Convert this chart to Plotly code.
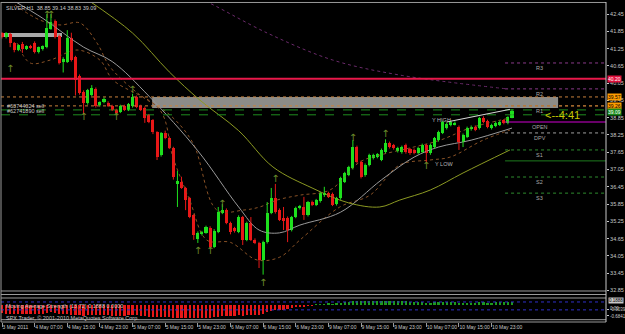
import plotly.graph_objects as go

# ---------------- data ----------------
opens = [41.78, 41.64, 41.76, 41.44, 41.20, 41.40, 41.24, 41.33, 41.44, 41.12,
         41.22, 41.30, 41.93, 42.20, 41.70, 40.78, 40.80, 41.62, 40.96, 40.30,
         39.74, 39.36, 39.64, 39.85, 39.29, 39.39, 39.36, 39.26, 39.12, 39.05,
         39.26, 39.12, 39.26, 39.57, 39.26, 39.19, 38.94, 38.77, 38.35, 37.55,
         38.32, 38.14, 37.80, 36.55, 36.62, 36.41, 36.06, 35.47, 34.65, 34.80,
         34.85, 35.02, 34.36, 34.88, 35.55, 35.64, 35.19, 35.02, 34.88, 35.40,
         34.61, 35.19, 34.61, 34.50, 33.91, 34.53, 35.54, 36.06, 35.64, 35.37,
         35.37, 34.95, 35.40, 35.71, 35.75, 35.47, 35.92, 35.82, 35.95, 36.15,
         36.23, 36.20, 35.85, 36.06, 36.62, 36.86, 37.10, 37.83, 37.31, 36.86,
         37.21, 37.45, 37.48, 37.38, 37.66, 37.97, 37.90, 37.70, 37.66, 37.90,
         37.76, 37.73, 37.62, 37.66, 37.90, 37.62, 37.83, 38.07, 38.32, 38.49,
         38.60, 38.63, 38.53, 38.01, 38.18, 38.45, 38.53, 38.49, 38.84, 38.74,
         38.49, 38.56, 38.60, 38.77, 38.67, 38.85]
highs = [41.82, 41.82, 41.80, 41.48, 41.40, 41.48, 41.36, 41.38, 41.50, 41.32,
         41.36, 42.45, 42.45, 42.26, 41.74, 40.95, 41.89, 41.80, 41.00, 40.35,
         39.80, 39.85, 39.98, 39.90, 39.42, 39.55, 39.42, 39.30, 39.16, 39.30,
         39.30, 39.36, 39.68, 39.62, 39.30, 39.24, 38.98, 38.80, 38.38, 38.35,
         38.40, 38.20, 37.84, 37.00, 36.80, 36.45, 36.10, 35.50, 34.90, 34.92,
         35.10, 35.08, 34.98, 35.75, 35.85, 35.70, 35.24, 35.06, 35.46, 35.44,
         35.24, 35.40, 34.66, 34.54, 34.58, 35.92, 36.41, 36.55, 35.70, 35.75,
         35.42, 35.44, 35.76, 35.82, 36.10, 35.96, 35.97, 36.03, 36.27, 36.45,
         36.28, 36.25, 36.10, 36.80, 36.97, 37.18, 38.07, 37.88, 37.36, 37.26,
         37.60, 37.60, 37.62, 37.78, 38.10, 38.02, 37.94, 37.84, 37.88, 37.95,
         37.80, 37.78, 37.84, 37.95, 37.94, 37.95, 38.18, 38.40, 38.74, 38.68,
         38.75, 38.72, 38.58, 38.30, 38.54, 38.58, 38.58, 38.88, 38.90, 38.78,
         38.64, 38.72, 38.75, 38.80, 38.90, 39.14]
lows = [41.60, 41.60, 41.30, 41.12, 41.16, 41.10, 41.20, 41.24, 41.08, 41.08,
        41.18, 41.26, 41.90, 41.60, 40.70, 40.42, 40.75, 40.80, 39.62, 39.65,
        38.96, 39.30, 39.60, 39.20, 39.24, 39.35, 39.22, 39.08, 38.95, 39.01,
        39.08, 39.08, 39.20, 39.18, 39.08, 38.67, 38.66, 38.28, 37.38, 37.50,
        38.10, 37.76, 36.70, 35.75, 36.38, 35.64, 35.36, 34.61, 34.50, 34.76,
        34.82, 34.30, 34.32, 34.84, 35.50, 35.15, 34.80, 34.86, 34.84, 34.43,
        34.56, 34.57, 34.46, 33.63, 33.40, 34.48, 35.50, 35.52, 35.26, 34.95,
        34.53, 34.90, 35.36, 35.66, 35.30, 35.42, 35.78, 35.78, 35.90, 36.10,
        36.06, 35.78, 35.80, 36.00, 36.58, 36.82, 37.05, 37.26, 36.74, 36.80,
        37.16, 37.40, 37.44, 37.34, 37.62, 37.78, 37.74, 37.64, 37.60, 37.60,
        37.56, 37.58, 37.58, 37.62, 37.27, 37.56, 37.78, 38.02, 38.28, 38.44,
        38.55, 38.58, 37.73, 37.83, 38.14, 38.40, 38.38, 38.44, 38.66, 38.48,
        38.44, 38.52, 38.56, 38.62, 38.62, 38.83]
closes = [41.64, 41.78, 41.44, 41.20, 41.37, 41.23, 41.33, 41.27, 41.13, 41.30,
          41.33, 41.96, 42.17, 41.65, 40.75, 40.88, 41.62, 40.85, 40.16, 39.71,
          39.36, 39.81, 39.88, 39.26, 39.39, 39.50, 39.26, 39.12, 39.01, 39.26,
          39.12, 39.33, 39.57, 39.22, 39.12, 38.84, 38.70, 38.35, 37.48, 38.32,
          38.14, 37.80, 36.80, 36.65, 36.41, 35.99, 35.40, 34.78, 34.85, 34.88,
          35.05, 34.36, 34.92, 35.57, 35.64, 35.19, 34.88, 34.90, 35.40, 34.61,
          35.19, 34.61, 34.50, 33.91, 34.53, 35.54, 36.06, 35.57, 35.30, 35.25,
          34.95, 35.40, 35.71, 35.78, 35.47, 35.92, 35.82, 35.99, 36.23, 36.25,
          36.10, 35.82, 36.05, 36.76, 36.93, 37.14, 37.83, 37.31, 36.79, 37.21,
          37.55, 37.55, 37.58, 37.73, 37.97, 37.83, 37.80, 37.80, 37.83, 37.66,
          37.62, 37.62, 37.80, 37.90, 37.62, 37.90, 38.14, 38.35, 38.70, 38.63,
          38.70, 38.67, 38.01, 38.25, 38.49, 38.53, 38.42, 38.84, 38.70, 38.53,
          38.60, 38.67, 38.70, 38.67, 38.87, 39.09]

hist = [-0.52, -0.55, -0.57, -0.55, -0.56, -0.58, -0.56, -0.57,
        -0.58, -0.57, -0.55, -0.48, -0.44, -0.47, -0.54, -0.58,
        -0.56, -0.60, -0.63, -0.65, -0.66, -0.63, -0.62, -0.65,
        -0.65, -0.64, -0.65, -0.67, -0.68, -0.67, -0.67, -0.65,
        -0.62, -0.65, -0.67, -0.70, -0.72, -0.74, -0.78, -0.75,
        -0.75, -0.76, -0.80, -0.79, -0.80, -0.81, -0.82, -0.83,
        -0.81, -0.80, -0.79, -0.80, -0.76, -0.72, -0.69, -0.69,
        -0.70, -0.70, -0.65, -0.66, -0.61, -0.61, -0.60, -0.63,
        -0.55, -0.44, -0.35, -0.33, -0.31, -0.29, -0.26, -0.20,
        -0.15, -0.11, -0.09, -0.05, -0.03, 0.02, 0.04, 0.06,
        0.08, 0.06, 0.08, 0.14, 0.18, 0.20, 0.25, 0.26,
        0.22, 0.24, 0.26, 0.26, 0.27, 0.27, 0.28, 0.27,
        0.26, 0.25, 0.24, 0.22, 0.21, 0.19, 0.18, 0.18,
        0.15, 0.15, 0.16, 0.18, 0.19, 0.19, 0.18, 0.18,
        0.14, 0.14, 0.15, 0.15, 0.14, 0.16, 0.16, 0.15,
        0.15, 0.16, 0.16, 0.16, 0.17, 0.1888]

time_tick_bars = [0, 8, 16, 24, 32, 40, 48, 56, 64, 72, 80, 88, 96, 104, 112, 120]
time_tick_text = ["3 May 2011", "4 May 07:00", "4 May 15:00", "4 May 23:00",
                  "5 May 07:00", "5 May 15:00", "5 May 23:00", "6 May 07:00",
                  "6 May 15:00", "6 May 23:00", "9 May 07:00", "9 May 15:00",
                  "9 May 23:00", "10 May 07:00", "10 May 15:00", "10 May 23:00"]
price_ticks = [42.45, 41.85, 41.25, 40.65, 40.05, 39.45, 38.85, 38.25, 37.65,
               37.05, 36.45, 35.85, 35.25, 34.65, 34.05, 33.45, 32.85]

# moving averages / envelopes (read at selected bars)
ma_fast_bars = [3, 10, 20, 27, 36, 48, 58, 63, 68, 73, 83, 93, 101, 107, 115, 125]
ma_fast_vals = [42.9, 42.3, 41.3, 40.8, 39.6, 37.7, 35.75, 34.95, 34.85, 35.12,
                35.57, 36.69, 37.48, 37.83, 38.07, 38.49]
ma_slow_bars = [21, 32, 41, 48.5, 58, 66.4, 76, 85, 92.6, 97.5, 105, 113, 124.5]
ma_slow_vals = [42.94, 41.79, 40.44, 39.46, 38.4, 37.14, 36.41, 35.89, 35.75,
                35.99, 36.34, 36.93, 37.73]
env_up_bars = [3.2, 9.3, 14.2, 19.1, 23.3, 26.5, 33.8, 41.2, 46.8, 52.7, 59.1,
               63.2, 67.4, 73, 80.4, 87.7, 92.6, 100, 107.4, 114.7, 124.5]
env_up_vals = [42.76, 42.24, 42.07, 42.14, 41.44, 40.61, 39.64, 38.94, 37.97,
               35.64, 35.64, 35.75, 35.99, 36.16, 36.34, 37.31, 37.55, 37.80,
               38.07, 38.49, 38.84]
env_dn_bars = [3.7, 6.9, 11.8, 18.4, 24, 27.2, 38.7, 41.9, 46, 50.2, 56, 62.5,
               68.1, 73, 82.8, 90.2, 97.5, 104.9, 109.8, 117.9, 124.5]
env_dn_vals = [41.44, 40.75, 40.85, 41.2, 40.85, 40.16, 39.12, 37.48, 35.99,
               34.6, 34.52, 33.91, 34.01, 34.6, 35.75, 36.16, 37.21, 37.38,
               37.48, 38.07, 38.42]
long_ma_bars = [48.5, 50.2, 65, 81.1, 97.5, 123.8]
long_ma_vals = [42.94, 42.87, 41.79, 40.85, 40.33, 39.85]

frac_bars = [11, 12, 32, 54, 67, 86, 94, 2, 20, 28, 48, 51, 64, 104]
frac_prices = [42.40, 42.40, 39.81, 35.82, 36.69, 38.14, 38.25,
               40.51, 38.84, 38.84, 34.22, 34.22, 33.11, 37.17]

# horizontal levels
red_level = 40.20
zone_top, zone_bottom = 39.57, 39.19
zone_start, zone_end = 36.8, 136.3
old_zone_top, old_zone_bottom = 41.79, 41.65
old_zone_start, old_zone_end = -0.3, 14.7
orange_levels = [39.57, 39.26]
order_levels = [39.12, 38.95]
order_labels = ["#63744024 sell", "#62741890 sell"]
current_price = 39.09

pivot_labels = ["R3", "R2", "R1", "OPEN", "DPV", "S1", "S2", "S3"]
pivot_prices = [40.75, 39.85, 39.26, 38.70, 38.32, 37.73, 36.79, 36.23]
pivot_colors = ["#8a3a8a", "#8a3a8a", "#b07030", "#d000d0", "#a0a0a0",
                "#2e8b2e", "#2e8b2e", "#2e8b2e"]
pivot_dash = ["dot", "dot", "dot", "solid", "dot", "dot", "dot", "dot"]
extra_green_level = 37.35
pivot_start, pivot_end = 123.3, 148.0

yhigh_bars = [109, 124.5]
yhigh_prices = [38.70, 39.14]

hist_levels = [0.1888, -0.3039]

# ---------------- figure ----------------
XR = [-0.245, 148.04]
YR = [32.589, 42.867]
Y2R = [-1.0625, 0.3125]
FONT = "Liberation Sans"

n = len(opens)
idx = list(range(n))
bull = [i for i in idx if closes[i] >= opens[i]]
bear = [i for i in idx if closes[i] < opens[i]]
BULL = "#1ee01e"
BEAR = "#e81818"

fig = go.Figure()

def wick_xy(ids):
    xs, ys = [], []
    for i in ids:
        xs += [i, i, None]
        ys += [lows[i], highs[i], None]
    return xs, ys

# long slow dotted purple line & envelopes (behind candles)
fig.add_trace(go.Scatter(x=long_ma_bars, y=long_ma_vals, mode="lines",
                         line=dict(color="#6a2a6a", width=1, dash="dot", shape="spline"),
                         hoverinfo="skip"))
for bx, by in ((env_up_bars, env_up_vals), (env_dn_bars, env_dn_vals)):
    fig.add_trace(go.Scatter(x=bx, y=by, mode="lines",
                             line=dict(color="#8a5226", width=1, dash="dot", shape="spline"),
                             hoverinfo="skip"))
fig.add_trace(go.Scatter(x=ma_fast_bars, y=ma_fast_vals, mode="lines",
                         line=dict(color="#9a9a9a", width=1, shape="spline"),
                         hoverinfo="skip"))
fig.add_trace(go.Scatter(x=ma_slow_bars, y=ma_slow_vals, mode="lines",
                         line=dict(color="#8c9a22", width=1, shape="spline"),
                         hoverinfo="skip"))

# full-width horizontal levels
fig.add_trace(go.Scatter(x=XR, y=[red_level, red_level], mode="lines",
                         line=dict(color="#e8184a", width=2), hoverinfo="skip"))
for lv in orange_levels:
    fig.add_trace(go.Scatter(x=XR, y=[lv, lv], mode="lines",
                             line=dict(color="#c8803c", width=1, dash="dot"), hoverinfo="skip"))
for lv in order_levels:
    fig.add_trace(go.Scatter(x=XR, y=[lv, lv], mode="lines",
                             line=dict(color="#1e8c1e", width=1, dash="dash"), hoverinfo="skip"))

# pivot lines on right
for lab, pr, col, ds in zip(pivot_labels, pivot_prices, pivot_colors, pivot_dash):
    fig.add_trace(go.Scatter(x=[pivot_start, pivot_end], y=[pr, pr], mode="lines",
                             line=dict(color=col, width=1, dash=ds), hoverinfo="skip"))
fig.add_trace(go.Scatter(x=[pivot_start, pivot_end], y=[extra_green_level] * 2, mode="lines",
                         line=dict(color="#1e7a1e", width=1), hoverinfo="skip"))

# candles
for ids, col in ((bull, BULL), (bear, BEAR)):
    wx, wy = wick_xy(ids)
    fig.add_trace(go.Scatter(x=wx, y=wy, mode="lines", line=dict(color=col, width=1),
                             hoverinfo="skip"))
    fig.add_trace(go.Bar(x=ids, y=[closes[i] - opens[i] for i in ids],
                         base=[opens[i] for i in ids], width=0.75,
                         marker=dict(color=col, line=dict(width=0)), hoverinfo="skip"))

# Y HIGH trend line
fig.add_trace(go.Scatter(x=yhigh_bars, y=yhigh_prices, mode="lines",
                         line=dict(color="#d8d8d8", width=1), hoverinfo="skip"))

# fractal arrows
fig.add_trace(go.Scatter(x=frac_bars, y=frac_prices, mode="text", text=["↑"] * len(frac_bars),
                         textfont=dict(family="DejaVu Sans", size=10, color="#6b8a2a"),
                         hoverinfo="skip"))

# histogram sub-window
fig.add_trace(go.Bar(x=idx, y=hist, width=0.55, yaxis="y2",
                     marker=dict(color=[BEAR if v < 0 else "#1c9a1c" for v in hist],
                                 line=dict(width=0)),
                     hoverinfo="skip"))
for lv in hist_levels:
    fig.add_trace(go.Scatter(x=XR, y=[lv, lv], yaxis="y2", mode="lines",
                             line=dict(color="#3030c8", width=1, dash="dot"), hoverinfo="skip"))

# shapes (zones & frame)
shapes = [
    dict(type="rect", xref="x", yref="y", x0=zone_start, x1=zone_end, y0=zone_bottom, y1=zone_top,
         fillcolor="#8c8c88", line=dict(width=0), layer="below"),
    dict(type="rect", xref="x", yref="y", x0=old_zone_start, x1=old_zone_end,
         y0=old_zone_bottom, y1=old_zone_top,
         fillcolor="#a8a8a8", line=dict(width=0), layer="below"),
]
G = "#9a9a9a"
def hline_paper(y, col=G, w=1):
    return dict(type="line", xref="paper", yref="paper", x0=0, x1=1, y0=y, y1=y,
                line=dict(color=col, width=w))
for yy in [0.9985, 0.0969, 0.0859, 0.075, 0.0072, 0.0]:
    shapes.append(hline_paper(yy))
shapes.append(dict(type="line", xref="paper", yref="paper", x0=0, x1=0, y0=0, y1=1,
                   line=dict(color=G, width=1)))
shapes.append(dict(type="line", xref="paper", yref="paper", x0=1, x1=1, y0=0, y1=1,
                   line=dict(color="#c8c8c8", width=1)))

small = dict(family=FONT, size=5.5, color="#c8c8c8")
ann = []
ann.append(dict(xref="paper", yref="paper", x=0.005, y=0.998, xanchor="left", yanchor="top",
                text="SILVER,H1  38.85 39.14 38.83 39.09", showarrow=False, font=small))
for lab, lv in zip(order_labels, order_levels):
    ann.append(dict(xref="paper", yref="y", x=0.006, y=lv, xanchor="left", yanchor="bottom",
                    yshift=-1, text=lab, showarrow=False, font=small))
for lab, pr in zip(pivot_labels, pivot_prices):
    ann.append(dict(xref="x", yref="y", x=131.8, y=pr, xanchor="center", yanchor="top",
                    text=lab, showarrow=False, font=dict(family=FONT, size=5.5, color="#a8a8a8")))
ann.append(dict(xref="x", yref="y", x=104.9, y=38.77, xanchor="left", yanchor="middle",
                text="Y HIGH", showarrow=False, font=dict(family=FONT, size=5.5, color="#b8b8b8")))
ann.append(dict(xref="x", yref="y", x=105.6, y=37.24, xanchor="left", yanchor="middle",
                text="Y LOW", showarrow=False, font=dict(family=FONT, size=5.5, color="#b8b8b8")))
ann.append(dict(xref="x", yref="y", x=132.6, y=38.94, xanchor="left", yanchor="middle",
                text="<--4:41", showarrow=False, font=dict(family=FONT, size=11, color="#c8c800")))
# right-side price boxes
for txt, pr, bg, fc in [("40.20", red_level, "#e0103c", "#ffffff"),
                        ("39.57", 39.57, "#ff9d00", "#000000"),
                        ("39.26", 39.26, "#ff9d00", "#000000"),
                        ("39.09", current_price - 0.03, "#1a8a1a", "#ffffff")]:
    ann.append(dict(xref="paper", yref="y", x=1.0, y=pr, xanchor="left", yanchor="middle",
                    xshift=1, text=txt, showarrow=False, bgcolor=bg, borderpad=0,
                    font=dict(family=FONT, size=5, color=fc)))
# sub-window value labels
ann.append(dict(xref="paper", yref="y2", x=1.0, y=0.1888, xanchor="left", yanchor="bottom",
                xshift=2, yshift=-2, text="0.1888", showarrow=False, borderpad=0,
                bgcolor="#c8c8c8", font=dict(family=FONT, size=4.5, color="#000000")))
ann.append(dict(xref="paper", yref="y2", x=1.0, y=0.0, xanchor="left", yanchor="top",
                xshift=2, yshift=1, text="0.00", showarrow=False,
                font=dict(family=FONT, size=4.5, color="#c8c8c8")))
ann.append(dict(xref="paper", yref="paper", x=0.005, y=0.066, xanchor="left", yanchor="top",
                text="Moving Average Strength (13,72) 0.1888 0.0000", showarrow=False, font=small))
ann.append(dict(xref="paper", yref="paper", x=0.005, y=0.012, xanchor="left", yanchor="middle",
                text="SPX Trader, © 2001-2010 MetaQuotes Software Corp.", showarrow=False, font=small))

fig.update_layout(
    width=625, height=334,
    margin=dict(l=1, r=19, t=2, b=12, autoexpand=False),
    paper_bgcolor="#000000", plot_bgcolor="#000000",
    showlegend=False, barmode="overlay", bargap=0,
    shapes=shapes, annotations=ann,
    xaxis=dict(range=XR, anchor="y2", showgrid=False, zeroline=False, automargin=False,
               tickvals=time_tick_bars, ticktext=time_tick_text, tickangle=0,
               ticks="outside", ticklen=4, tickcolor="#9a9a9a",
               ticklabelposition="outside right",
               tickfont=dict(family=FONT, size=5, color="#c8c8c8"), showline=False),
    yaxis=dict(domain=[0.075, 1], range=YR, side="right", showgrid=False, zeroline=False,
               automargin=False,
               tickvals=price_ticks, ticktext=[f"{p:.2f}" for p in price_ticks],
               ticks="outside", ticklen=2, tickcolor="#c8c8c8",
               tickfont=dict(family=FONT, size=5.5, color="#c8c8c8")),
    yaxis2=dict(domain=[0, 0.06875], range=Y2R, side="right", showgrid=False, zeroline=False,
                anchor="x", automargin=False,
                tickvals=[-0.3039, -0.6841],
                ticktext=["-0.3039", "-0.6841"],
                ticks="outside", ticklen=2, tickcolor="#c8c8c8",
                tickfont=dict(family=FONT, size=4.5, color="#c8c8c8")),
)

fig.write_html("out.html")
